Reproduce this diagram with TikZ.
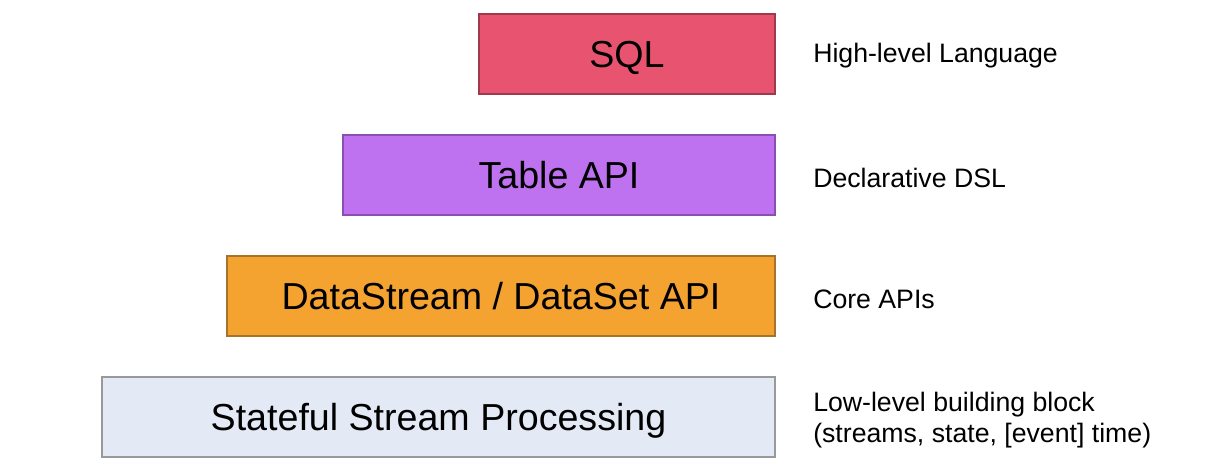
\documentclass[tikz,border=0pt]{standalone}
\usepackage{fontspec}
\setmainfont{Liberation Sans}
\definecolor{sqlfill}{HTML}{E8546F}
\definecolor{sqldraw}{HTML}{9E3A4B}
\definecolor{tabfill}{HTML}{BE72EF}
\definecolor{tabdraw}{HTML}{8A4FB0}
\definecolor{dsfill}{HTML}{F4A230}
\definecolor{dsdraw}{HTML}{A8722A}
\definecolor{sfill}{HTML}{E3E9F5}
\definecolor{sdraw}{HTML}{999999}
\begin{document}
\begin{tikzpicture}[x=0.75pt,y=-0.75pt,
  layerbox/.style={draw, line width=1.3pt, minimum height=80*0.75pt, inner sep=0pt, text height=20pt, text depth=0pt, font=\fontsize{28.2}{32}\selectfont, text=black},
  sidelabel/.style={anchor=west, font=\fontsize{20}{23}\selectfont, align=left, inner sep=0pt}]
\useasboundingbox (0,0) rectangle (1208,471);
\node[layerbox, fill=sqlfill, draw=sqldraw, minimum width=296*0.75pt] (sql) at (627,54) {SQL};
\node[layerbox, fill=tabfill, draw=tabdraw, minimum width=432*0.75pt] (table) at (559,175) {Table API};
\node[layerbox, fill=dsfill, draw=dsdraw, minimum width=548*0.75pt] (ds) at (501,296) {DataStream / DataSet API};
\node[layerbox, fill=sfill, draw=sdraw, minimum width=673*0.75pt] (sp) at (438.5,417) {Stateful Stream Processing};
\node[sidelabel] (l1) at (813,56) {High-level Language};
\node[sidelabel] (l2) at (813,178) {Declarative DSL};
\node[sidelabel] (l3) at (813,299) {Core APIs};
\node[sidelabel] (l4) at (813,420) {Low-level building block\\(streams, state, [event] time)};
\end{tikzpicture}
\end{document}
